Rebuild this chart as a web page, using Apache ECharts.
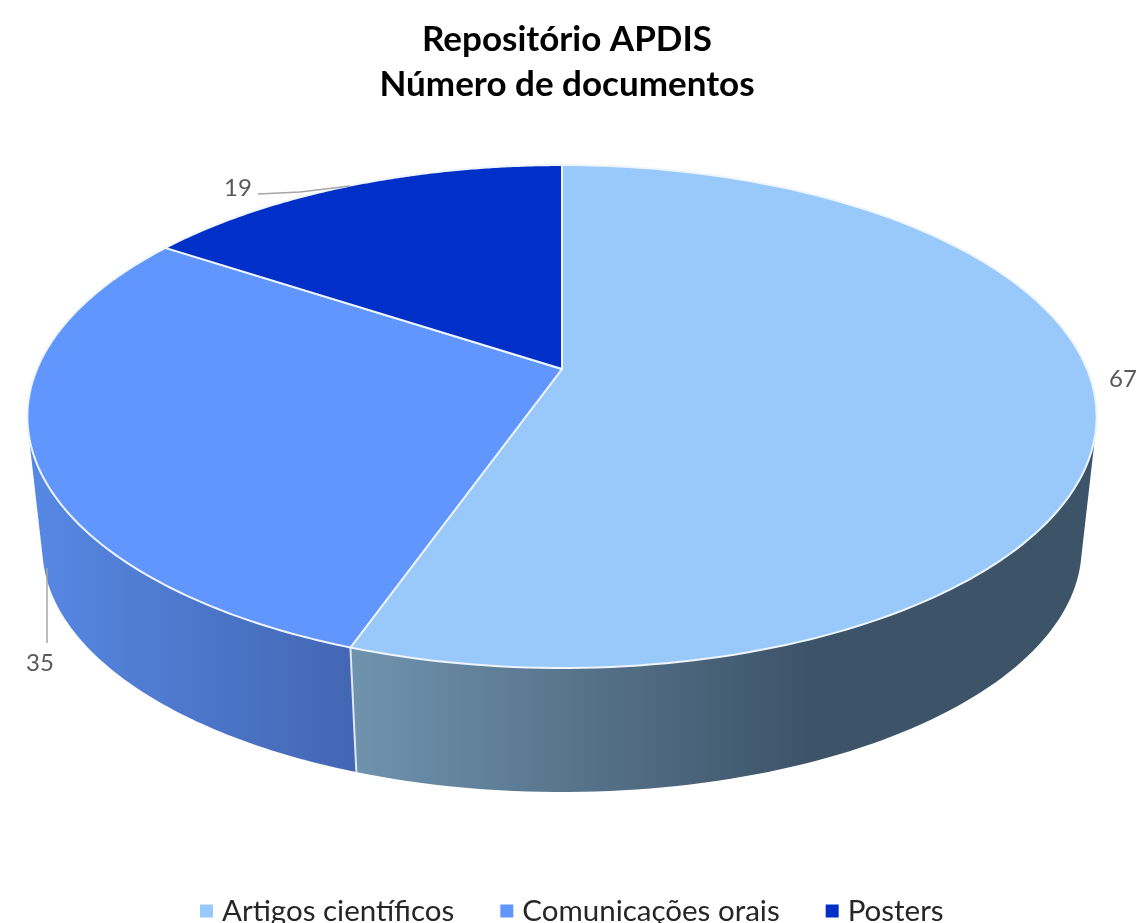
<!DOCTYPE html>
<html>
<head>
<meta charset="utf-8">
<title>Repositório APDIS</title>
<script src="https://cdn.jsdelivr.net/npm/echarts@6/dist/echarts.min.js"></script>
<style>
  html, body { margin: 0; padding: 0; background: #fff; }
  #chart { width: 1136px; height: 923px; }
</style>
</head>
<body>
<div id="chart"></div>
<script>
// dados
const categories = ['Artigos científicos', 'Comunicações orais', 'Posters']
const documentos = [67, 35, 19]

const topColors = ['#99c9fa', '#6196ff', '#0030c8']
const wallStops = [
  { from: 357, to: 810, colors: ['#6f92ad', '#3d5368'] },
  { from: 40, to: 357, colors: ['#5687e2', '#4366b2'] },
  { from: 0, to: 1136, colors: ['#00208a', '#00208a'] },
]
// posição do rótulo e linha de chamada de cada fatia
const labelSpots = [
  { x: 1123, y: 379, line: null },
  { x: 40, y: 663, line: [[47, 568], [47, 643]] },
  { x: 238, y: 188, line: [[258, 194], [300, 192], [350, 186]] },
]

// pizza 3D em perspetiva: círculo projetado numa elipse
const apex = { x: 562, y: 369 }
const persp = { a: 525, b: 242.5, k: 0.189 }
const wallScale = 0.972
const vanishY = 5096
const STEPS = 160

const total = documentos.reduce((s, v) => s + v, 0)
const angleOf = v => echarts.number.linearMap(v, [0, total], [0, Math.PI * 2])

const topPoint = t => {
  const u = Math.sin(t)
  const v = -Math.cos(t)
  const d = 1 - persp.k * v
  return [apex.x + persp.a * u / d, apex.y + persp.b * v / d]
}
const bottomPoint = t => {
  const p = topPoint(t)
  return [apex.x + wallScale * (p[0] - apex.x), vanishY + wallScale * (p[1] - vanishY)]
}
// parede só é visível quando o quad está voltado para a frente
const facesFront = t => {
  const d = 0.002
  const p = topPoint(t), q = topPoint(t + d), r = bottomPoint(t)
  return (q[0] - p[0]) * (r[1] - p[1]) - (q[1] - p[1]) * (r[0] - p[0]) < 0
}

const renderSlice = (index, api) => {
  const value = api.value(0)
  const before = documentos.slice(0, index).reduce((s, v) => s + v, 0)
  const a0 = angleOf(before)
  const a1 = angleOf(before + value)

  const angles = []
  for (let i = 0; i <= STEPS; i++) angles.push(a0 + (a1 - a0) * i / STEPS)

  const children = []
  const front = angles.filter(facesFront)
  if (front.length > 1) {
    const w = wallStops[index]
    children.push({
      type: 'polygon',
      z2: 1,
      shape: { points: front.map(topPoint).concat(front.slice().reverse().map(bottomPoint)) },
      style: {
        fill: {
          type: 'linear', x: w.from, y: 0, x2: w.to, y2: 0, global: true,
          colorStops: [{ offset: 0, color: w.colors[0] }, { offset: 1, color: w.colors[1] }],
        },
      },
    })
    if (facesFront(a1)) {
      children.push({
        type: 'line',
        z2: 2,
        shape: { x1: topPoint(a1)[0], y1: topPoint(a1)[1], x2: bottomPoint(a1)[0], y2: bottomPoint(a1)[1] },
        style: { stroke: '#dfe8f5', lineWidth: 2 },
      })
    }
  }

  children.push({
    type: 'polygon',
    z2: 3,
    shape: { points: [[apex.x, apex.y]].concat(angles.map(topPoint)) },
    style: { fill: topColors[index], stroke: '#eef5fd', lineWidth: 2, lineJoin: 'round' },
  })

  const spot = labelSpots[index]
  if (spot.line) {
    children.push({
      type: 'polyline',
      z2: 4,
      shape: { points: spot.line },
      style: { fill: 'none', stroke: '#a6a6a6', lineWidth: 1.5 },
    })
  }
  children.push({
    type: 'text',
    z2: 4,
    style: {
      x: spot.x, y: spot.y, text: String(value), fill: '#595959',
      font: '24px Lato', align: 'center', verticalAlign: 'middle',
    },
  })
  return { type: 'group', children }
}

const chart = echarts.init(document.getElementById('chart'), null, { renderer: 'canvas' })

chart.setOption({
  animation: false,
  backgroundColor: '#fff',
  title: {
    text: 'Repositório APDIS\nNúmero de documentos',
    left: 562,
    top: 12,
    textAlign: 'center',
    textStyle: { fontFamily: 'Lato', fontWeight: 'bold', fontSize: 35, lineHeight: 45, color: '#000' },
  },
  legend: {
    left: 195,
    top: 891,
    icon: 'rect',
    itemWidth: 13,
    itemHeight: 13,
    itemGap: 46,
    data: categories,
    textStyle: { fontFamily: 'Lato', fontSize: 29.5, color: '#262626', padding: [0, 0, 0, 4] },
  },
  series: categories.map((name, i) => ({
    type: 'custom',
    name,
    coordinateSystem: 'none',
    silent: true,
    itemStyle: { color: topColors[i] },
    data: [[documentos[i]]],
    renderItem: (params, api) => renderSlice(i, api),
  })),
})
</script>
</body>
</html>
